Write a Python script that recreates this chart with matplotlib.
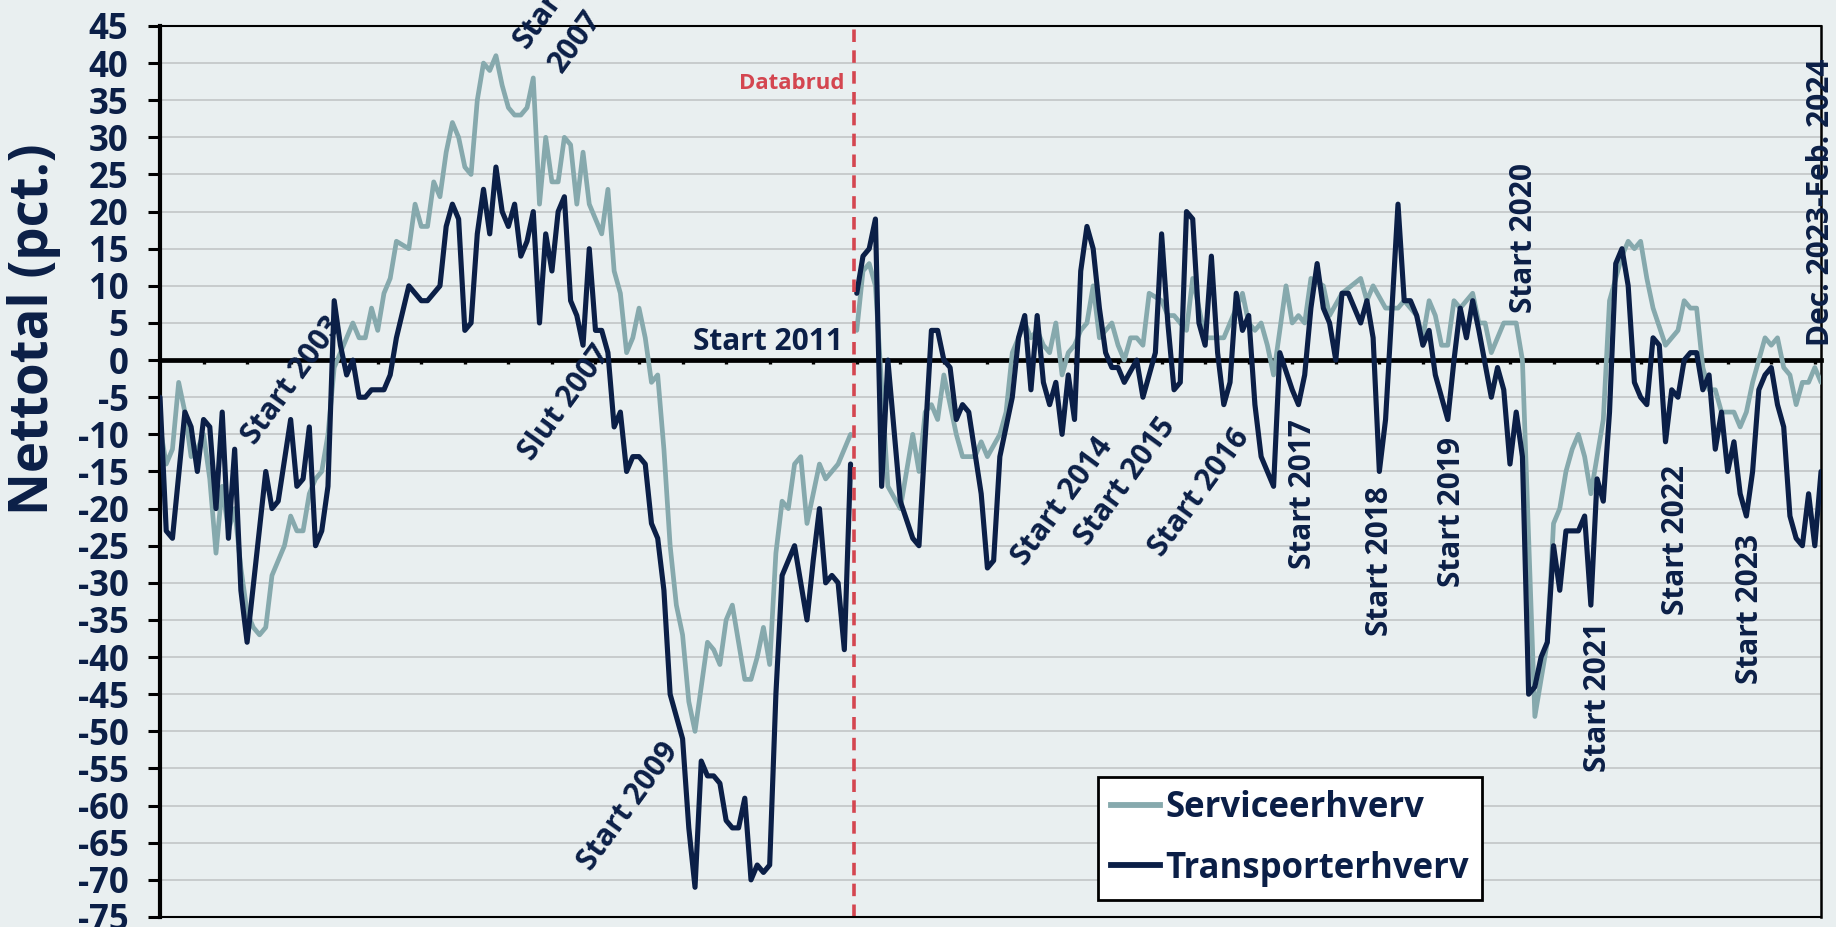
import matplotlib
matplotlib.use("Agg")
import matplotlib.pyplot as plt
from matplotlib.lines import Line2D

plt.rcParams['font.family'] = ['Open Sans', 'DejaVu Sans']
plt.rcParams['axes.unicode_minus'] = False
plt.rcParams['lines.scale_dashes'] = False

# ---------------- data (month index 0 = first observation, 267 = Dec. 2023-Feb. 2024) -------------
BREAK_IDX = 112  # first month after the data break (start 2011)

trans_idx = [0, 1, 2, 4, 5, 6, 7, 8, 9, 10, 11, 12, 13, 14, 17, 18, 19, 21, 22, 23, 24, 25, 26, 27, 28, 29,
             30, 31, 32, 33, 34, 36, 37, 38, 40, 41, 42, 43, 44, 45, 46, 47, 48, 49, 50, 51, 52, 53, 54, 55,
             56, 57, 58, 59, 60, 61, 62, 63, 64, 65, 66, 67, 68, 69, 70, 71, 72, 73, 74, 75, 76, 77, 78, 79,
             80, 81, 82, 83, 84, 85, 86, 87, 88, 89, 90, 91, 92, 93, 94, 95, 96, 97, 98, 99, 100, 101, 102,
             103, 104, 105, 106, 107, 108, 109, 110, 111,
             112, 113, 114, 115, 116, 117, 119, 121, 122, 124, 125, 126, 127, 128, 129, 130, 132, 133, 134,
             135, 137, 138, 139, 140, 141, 142, 143, 144, 145, 146, 147, 148, 149, 150, 151, 152, 153, 154,
             155, 157, 158, 160, 161, 162, 163, 164, 165, 166, 167, 168, 169, 170, 171, 172, 173, 174, 175,
             176, 177, 179, 180, 182, 183, 184, 185, 186, 187, 188, 189, 190, 191, 192, 193, 194, 195, 196,
             197, 199, 200, 201, 202, 203, 204, 205, 207, 208, 209, 210, 211, 212, 214, 215, 216, 217, 218,
             219, 220, 221, 222, 223, 224, 225, 226, 227, 228, 229, 230, 231, 232, 233, 234, 235, 236, 237,
             238, 239, 240, 241, 242, 243, 244, 245, 246, 247, 248, 249, 250, 251, 252, 253, 254, 255, 256,
             257, 258, 259, 260, 261, 262, 263, 264, 265, 266, 267]
trans_val = [-5, -23, -24, -7, -9, -15, -8, -9, -20, -7, -24, -12, -31, -38, -15, -20, -19, -8, -17, -16, -9,
             -25, -23, -17, 8, 2, -2, 0, -5, -5, -4, -4, -2, 3, 10, 9, 8, 8, 9, 10, 18, 21, 19, 4, 5, 17, 23,
             17, 26, 20, 18, 21, 14, 16, 20, 5, 17, 12, 20, 22, 8, 6, 2, 15, 4, 4, 1, -9, -7, -15, -13, -13,
             -14, -22, -24, -31, -45, -48, -51, -63, -71, -54, -56, -56, -57, -62, -63, -63, -59, -70, -68,
             -69, -68, -45, -29, -27, -25, -30, -35, -27, -20, -30, -29, -30, -39, -14,
             9, 14, 15, 19, -17, 0, -19, -24, -25, 4, 4, 0, -1, -8, -6, -7, -18, -28, -27, -13, -5, 3, 6, -4,
             6, -3, -6, -3, -10, -2, -8, 12, 18, 15, 7, 1, -1, -1, -3, 0, -5, 1, 17, 5, -4, -3, 20, 19, 5, 2,
             14, 1, -6, -3, 9, 4, 6, -6, -13, -17, 1, -4, -6, -2, 7, 13, 7, 5, 0, 9, 9, 7, 5, 8, 3, -15, -8,
             21, 8, 8, 6, 2, 4, -2, -8, 0, 7, 3, 8, 4, -5, -1, -4, -14, -7, -13, -45, -44, -40, -38, -25, -31,
             -23, -23, -23, -21, -33, -16, -19, -7, 13, 15, 10, -3, -5, -6, 3, 2, -11, -4, -5, 0, 1, 1, -4, -2,
             -12, -7, -15, -11, -18, -21, -15, -4, -2, -1, -6, -9, -21, -24, -25, -18, -25, -15]

serv_idx = [0, 1, 2, 3, 4, 5, 6, 7, 8, 9, 10, 11, 12, 13, 14, 15, 16, 17, 18, 19, 20, 21, 22, 23, 24, 25, 26,
            27, 28, 29, 31, 32, 33, 34, 35, 36, 37, 38, 40, 41, 42, 43, 44, 45, 46, 47, 48, 49, 50, 51, 52,
            53, 54, 55, 56, 57, 58, 59, 60, 61, 62, 63, 64, 65, 66, 67, 68, 69, 70, 71, 72, 73, 74, 75, 76,
            77, 78, 79, 80, 81, 82, 83, 84, 85, 86, 87, 88, 89, 90, 91, 92, 93, 94, 95, 96, 97, 98, 99, 100,
            101, 102, 103, 104, 105, 106, 107, 108, 109, 110, 111,
            112, 113, 114, 115, 117, 119, 121, 122, 123, 124, 125, 126, 128, 129, 131, 132, 133, 135, 136,
            137, 138, 139, 140, 141, 142, 143, 144, 145, 146, 147, 148, 149, 150, 151, 153, 154, 155, 156,
            157, 158, 159, 161, 162, 163, 165, 166, 168, 169, 170, 171, 174, 175, 176, 177, 178, 179, 181,
            182, 183, 184, 185, 187, 188, 190, 193, 194, 195, 197, 198, 199, 200, 202, 203, 204, 205, 206,
            207, 208, 209, 210, 211, 212, 213, 214, 215, 216, 218, 219, 221, 222, 223, 224, 225, 226, 227,
            228, 229, 230, 232, 233, 234, 235, 236, 237, 238, 239, 240, 242, 243, 244, 245, 246, 247, 248,
            249, 250, 251, 253, 254, 255, 256, 258, 259, 260, 261, 262, 263, 264, 265, 266, 267]
serv_val = [-9, -14, -12, -3, -7, -13, -12, -10, -16, -26, -17, -23, -20, -28, -34, -36, -37, -36, -29, -27,
            -25, -21, -23, -23, -18, -16, -15, -10, -1, 1, 5, 3, 3, 7, 4, 9, 11, 16, 15, 21, 18, 18, 24, 22,
            28, 32, 30, 26, 25, 35, 40, 39, 41, 37, 34, 33, 33, 34, 38, 21, 30, 24, 24, 30, 29, 21, 28, 21,
            19, 17, 23, 12, 9, 1, 3, 7, 3, -3, -2, -12, -25, -33, -37, -46, -50, -44, -38, -39, -41, -35,
            -33, -38, -43, -43, -40, -36, -41, -26, -19, -20, -14, -13, -22, -18, -14, -16, -15, -14, -12, -10,
            4, 12, 13, 10, -17, -20, -10, -15, -7, -6, -8, -2, -10, -13, -13, -11, -13, -10, -7, 1, 3, 5, 3,
            4, 2, 1, 5, -2, 1, 2, 4, 5, 10, 3, 5, 2, 0, 3, 3, 2, 9, 8, 6, 6, 4, 11, 3, 3, 3, 3, 9, 5, 4, 5,
            2, -2, 10, 5, 6, 5, 11, 10, 6, 9, 11, 8, 10, 7, 7, 7, 8, 6, 3, 8, 6, 2, 2, 8, 7, 8, 9, 5, 5, 1,
            3, 5, 5, 0, -48, -43, -38, -22, -20, -15, -12, -10, -13, -18, -8, 8, 11, 14, 16, 15, 16, 11, 7,
            2, 3, 4, 8, 7, 7, -1, -4, -4, -7, -7, -9, -7, -3, 3, 2, 3, -1, -2, -6, -3, -3, -1, -3]

series_names = ["Serviceerhverv", "Transporterhverv"]
y_ticks = list(range(-75, 50, 5))
y_tick_labels = [str(v) for v in y_ticks]
x_tick_step = 7
n_months = 268

# ---------------- style ----------------
BG = "#e9eff0"
NAVY = "#0b1f47"
TEAL = "#86a9ad"
RED = "#d44650"
GRID = "#c2c6c6"

fig = plt.figure(figsize=(18.36, 9.27), dpi=100)
fig.patch.set_facecolor(BG)
ax = fig.add_axes([0.08715, 0.0108, 0.9047, 0.9612])
ax.set_facecolor(BG)
ax.set_xlim(0, n_months - 1)
ax.set_ylim(-75, 45)


def split(idx, val):
    a = [(i, v) for i, v in zip(idx, val) if i < BREAK_IDX]
    b = [(i, v) for i, v in zip(idx, val) if i >= BREAK_IDX]
    return a, b


for idx, val, col, lw in [(serv_idx, serv_val, TEAL, 3.4), (trans_idx, trans_val, NAVY, 3.7)]:
    for part in split(idx, val):
        xs = [p[0] for p in part]
        ys = [p[1] for p in part]
        ax.plot(xs, ys, color=col, lw=lw, solid_joinstyle='round', solid_capstyle='round', zorder=3)

# data-break line
ax.axvline(BREAK_IDX - 0.4, color=RED, lw=2.6, dashes=(9, 6), zorder=4)

# grid
ax.set_yticks(y_ticks)
ax.set_yticklabels(y_tick_labels)
ax.yaxis.grid(True, color=GRID, lw=1.2, zorder=0)
ax.set_axisbelow(True)

# spines
ax.spines['bottom'].set_position(('data', 0))
ax.spines['bottom'].set_linewidth(3.4)
ax.spines['left'].set_linewidth(3.0)
ax.spines['top'].set_linewidth(1.5)
ax.spines['right'].set_linewidth(1.8)
for s in ax.spines.values():
    s.set_color('black')
ax.plot([0, 1], [0, 0], transform=ax.transAxes, color='black', lw=1.5, clip_on=False, zorder=5)

ax.set_xticks(list(range(x_tick_step, n_months, x_tick_step)))
ax.tick_params(axis='x', direction='out', length=3, width=2.4, color='black', labelbottom=False)
ax.tick_params(axis='y', direction='out', length=8.6, width=2.2, color='black', pad=14,
               labelsize=25, labelcolor=NAVY)
for t in ax.get_yticklabels():
    t.set_fontweight('bold')

ax.set_ylabel("Nettotal (pct.)", fontsize=38, fontweight='bold', color=NAVY)
ax.yaxis.set_label_coords(-0.0596, 0.66)

# annotations
afs = 21.5
diag = [("Start 2003", 15.3, -11.6), ("Start", 58.9, 41.7), ("2007", 64.6, 38.5),
        ("Slut 2007", 59.8, -13.7), ("Start 2009", 69.3, -68.9), ("Start 2014", 139.0, -27.9),
        ("Start 2015", 149.2, -25.2), ("Start 2016", 161.1, -26.6)]
for txt, x, y in diag:
    ax.text(x, y, txt, rotation=54, rotation_mode='anchor', ha='left', va='baseline',
            fontsize=afs, fontweight='bold', color=NAVY, zorder=6)

vert = [("Start 2017", 183.7, -18.0), ("Start 2018", 196.1, -27.1), ("Start 2019", 207.7, -20.5),
        ("Start 2020", 219.3, 16.4), ("Start 2021", 231.2, -45.4), ("Start 2022", 243.7, -24.2),
        ("Start 2023", 255.6, -33.5), ("Dec. 2023-Feb. 2024", 267.0, 21.2)]
for txt, x, y in vert:
    ax.text(x, y, txt, rotation=90, ha='center', va='center', fontsize=afs, fontweight='bold',
            color=NAVY, zorder=6, clip_on=False)

ax.text(97.7, 2.4, "Start 2011", ha='center', va='center', fontsize=afs, fontweight='bold',
        color=NAVY, zorder=6)
ax.text(101.6, 37.2, "Databrud", ha='center', va='center', fontsize=16, fontweight='bold',
        color=RED, zorder=6)

handles = [Line2D([], [], color=TEAL, lw=4.2), Line2D([], [], color=NAVY, lw=4.2)]
leg = ax.legend(handles, series_names, loc='upper left', bbox_to_anchor=(0.5647, 0.1571),
                borderaxespad=0, frameon=True, fancybox=False, framealpha=1,
                prop={'size': 25, 'weight': 'bold'}, handlelength=1.4, handletextpad=0.15,
                borderpad=0.38, labelspacing=0.7)
leg.get_frame().set_edgecolor('black')
leg.get_frame().set_linewidth(2.0)
leg.get_frame().set_facecolor('white')
for t in leg.get_texts():
    t.set_color(NAVY)
leg.set_zorder(7)

fig.savefig("out.png", dpi=100, facecolor=BG)
